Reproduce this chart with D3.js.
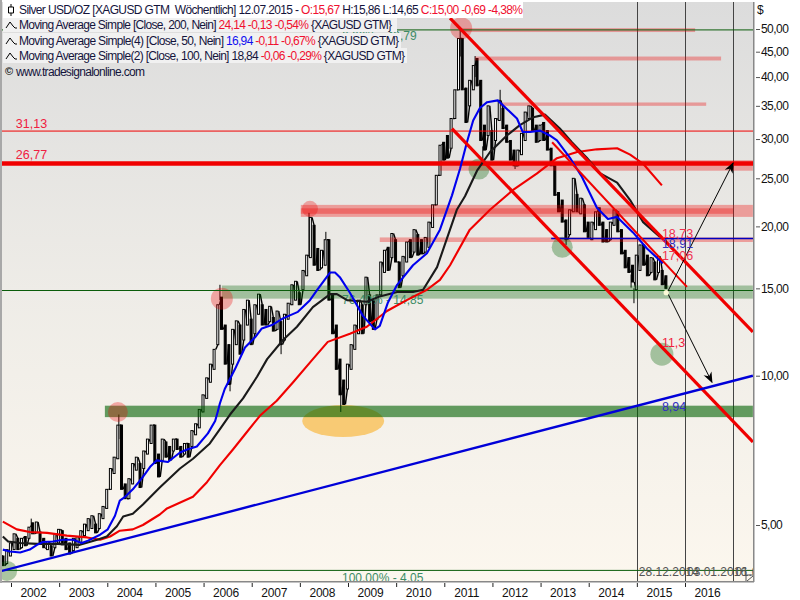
<!DOCTYPE html>
<html><head><meta charset="utf-8">
<script src="https://d3js.org/d3.v7.min.js"></script>
<style>html,body{margin:0;padding:0;background:#fff}svg{display:block}text{font-family:"Liberation Sans",Arial,sans-serif}</style>
</head><body><svg id="c" width="800" height="600"></svg>
<script>
// four-weekly open / close (USD)
const barStartYear = 2001.834, barsPerYear = 13;
const barOpen = [4.33,4.18,4.33,4.46,4.7,4.5,4.74,4.7,5.05,4.82,4.84,4.7,4.46,4.54,4.5,4.6,4.87,4.7,4.6,4.44,4.5,4.6,4.76,4.87,4.92,5.02,4.92,5.15,5.4,5.9,6.35,6.8,7.95,6.05,5.65,6.05,6.45,6.65,6.5,6.95,7.3,7.95,6.95,6.75,7.35,7.2,7.05,7.45,7.2,6.95,7.3,7.2,7.6,7.85,8.45,9.0,9.7,10.3,11.55,14.4,12.65,11.55,10.55,11.55,12.65,11.8,12.65,13.0,12.15,13.3,13.9,13.6,12.85,13.1,12.4,12.85,11.8,13.0,13.9,14.2,14.7,14.9,15.9,17.3,20.1,18.05,16.5,16.7,18.8,14.55,12.65,10.8,9.8,9.4,10.3,11.3,12.15,13.9,13.9,14.55,14.2,13.0,14.55,16.15,18.15,17.3,18.8,16.95,15.9,16.95,18.8,17.75,19.25,18.8,17.75,18.15,19.9,22.1,25.35,29.55,30.5,28.75,33.0,37.7,47.85,38.0,35.0,37.7,43.6,39.4,32.0,30.5,31.2,29.8,32.7,34.6,32.0,29.8,28.5,26.5,27.9,29.8,33.0,34.6,32.0,29.8,32.4,31.2,28.75,26.5,23.4,22.6,20.6,19.25,21.4,23.2,21.2,22.1,20.4,18.8,19.7,21.8,20.4,19.7,18.8,20.1,21.4,19.7,17.9,17.3,16.7,14.9,16.3,18.35,17.5,16.15,16.95,16.15,16.3,15.9];
const barClose = [4.14,4.46,4.6,4.8,4.46,4.7,4.54,4.95,4.8,5.07,4.6,4.5,4.63,4.33,4.8,4.9,4.56,4.46,4.37,4.7,4.74,4.87,5.02,5.15,5.22,4.82,5.27,5.45,5.9,6.5,6.85,7.95,5.9,5.65,6.2,6.65,6.85,5.95,7.05,7.45,7.95,6.65,6.25,7.45,6.85,6.75,7.45,7.1,6.85,7.3,6.85,7.75,8.0,8.55,9.15,9.9,10.55,11.3,13.9,12.4,10.55,9.6,12.4,12.9,11.05,13.6,14.2,11.55,13.9,14.6,12.65,12.65,13.8,12.3,13.5,11.55,13.3,14.0,15.25,15.5,13.9,16.3,17.5,20.85,16.7,16.3,17.9,18.8,14.2,12.15,10.3,9.15,8.75,10.55,11.55,12.65,14.2,12.15,15.8,12.85,12.4,14.55,16.95,17.9,16.3,19.35,16.95,15.05,17.4,18.6,17.3,19.7,17.5,17.6,19.0,20.4,22.1,25.35,29.15,27.2,27.45,33.0,37.7,47.85,37.7,32.4,39.4,42.2,38.4,29.8,28.5,35.0,27.2,33.0,35.9,31.5,29.55,27.2,26.5,28.5,30.8,34.0,35.0,31.2,29.55,32.0,29.8,28.5,26.5,23.1,21.4,20.4,18.8,21.6,25.0,21.4,22.8,19.5,19.0,20.4,21.4,20.1,18.6,18.6,20.4,21.6,19.5,17.6,16.5,16.15,15.45,17.5,18.35,16.7,15.9,17.3,15.6,17.4,15.25,15.0];
// notable wicks [year, high, low]
const wicks = [[2002.42,5.15,4.95],[2004.24,8.35,7.45],[2006.34,15.25,14.2],[2006.55,10.0,9.3],[2007.61,11.8,11.05],[2008.19,21.3,17.4],[2008.54,19.5,18.8],[2008.85,9.5,8.45],[2011.33,49.8,44],[2011.64,44.1,40],[2011.80,29,27.2],[2012.16,37.7,35],[2012.47,27,26.1],[2013.53,19,18.35],[2014.88,16,15.05],[2014.94,15,14.0]];

const ma50 = [[2001.83,4.46],[2001.98,4.42],[2002.19,4.4],[2002.39,4.46],[2002.54,4.56],[2002.66,4.62],[2002.87,4.63],[2003.08,4.67],[2003.29,4.67],[2003.47,4.6],[2003.60,4.65],[2003.85,4.78],[2004.01,4.9],[2004.16,5.22],[2004.26,5.6],[2004.37,5.7],[2004.53,5.9],[2004.74,6.25],[2004.89,6.55],[2005.03,6.75],[2005.26,6.7],[2005.51,7.0],[2005.66,7.1],[2005.86,7.2],[2006.09,7.65],[2006.24,8.1],[2006.30,8.5],[2006.34,8.8],[2006.44,9.4],[2006.65,10.3],[2006.86,11.4],[2007.07,11.95],[2007.21,12.45],[2007.42,12.65],[2007.65,13.05],[2007.96,13.45],[2008.21,14.2],[2008.36,14.9],[2008.63,16.15],[2008.73,16.15],[2008.83,15.8],[2009.04,14.7],[2009.31,13.2],[2009.56,12.4],[2009.66,12.6],[2009.83,14.05],[2010.02,15.25],[2010.35,16.7],[2010.64,17.65],[2010.91,19.7],[2011.16,23.1],[2011.33,26.2],[2011.47,29.55],[2011.60,32.7],[2011.74,34.65],[2011.89,35.6],[2012.11,35.9],[2012.30,34.5],[2012.51,33.0],[2012.63,31.0],[2012.78,31.0],[2012.99,31.2],[2013.19,30.5],[2013.34,29.8],[2013.61,27.5],[2013.86,25.15],[2014.17,21.8],[2014.40,20.7],[2014.59,20.9],[2014.92,19.45],[2015.21,18.05],[2015.54,16.85]];
const ma100 = [[2001.83,4.74],[2001.94,4.63],[2002.19,4.6],[2002.54,4.58],[2002.96,4.58],[2003.43,4.56],[2003.79,4.67],[2003.99,4.74],[2004.20,4.97],[2004.33,5.2],[2004.53,5.27],[2004.74,5.5],[2005.09,5.95],[2005.51,6.5],[2005.78,6.8],[2006.13,7.3],[2006.34,7.8],[2006.55,8.35],[2006.82,9.0],[2007.11,9.95],[2007.32,10.8],[2007.65,11.8],[2007.94,12.55],[2008.27,13.75],[2008.63,14.6],[2008.77,14.6],[2008.98,14.2],[2009.39,14.1],[2009.66,14.45],[2010.02,14.75],[2010.35,14.75],[2010.56,14.9],[2010.85,16.55],[2011.26,21.6],[2011.43,23],[2011.68,25.9],[2011.95,28.25],[2012.30,30.5],[2012.57,32],[2012.85,33.2],[2013.09,33.6],[2013.40,31.5],[2013.65,29.55],[2013.96,27.5],[2014.23,25.6],[2014.59,24.5],[2014.86,22.6],[2015.13,20.4],[2015.48,19.05]];
const ma200 = [[2001.83,5.08],[2002.12,4.9],[2002.39,4.84],[2002.75,4.82],[2003.16,4.76],[2003.58,4.72],[2003.85,4.67],[2004.06,4.74],[2004.26,4.87],[2004.53,4.9],[2004.74,5.0],[2005.09,5.25],[2005.24,5.4],[2005.78,5.7],[2006.07,6.1],[2006.34,6.6],[2006.61,7.1],[2006.90,7.7],[2007.17,8.3],[2007.52,8.9],[2007.86,9.7],[2008.27,10.8],[2008.58,11.7],[2009.04,12.15],[2009.39,12.55],[2009.81,13.5],[2010.22,14.2],[2010.64,14.9],[2010.91,15.6],[2011.12,16.7],[2011.53,19.7],[2011.95,21.6],[2012.43,23.7],[2012.92,25.55],[2013.34,27.45],[2013.76,28.25],[2014.17,28.6],[2014.59,28.75],[2014.86,27.9],[2015.13,26.75],[2015.52,24.2]];

const yearEnd = 2017.41;
// analyst trend lines [[year,value],[year,value]]
const redTrends = [[[2011.12,52.6],[yearEnd,12.25]],[[2011.16,31.5],[yearEnd,7.35]]];
const redTrendThin = [[2013.24,29.55],[2016.04,15.1]];
const blueTrend = [[2001.81,4.04],[yearEnd,10.0]];
const arrows = [[[2015.63,14.7],[2017.0,26.85]],[[2015.65,14.6],[2016.56,9.7]]];
const fibLevels = [49.79,14.85,4.05];
const fibLabels = ["0,00% - 49,79","76,40% - 14,85","100,00% - 4,05"];
// bands: value top, value bottom, year from, year to
const pinkBands = [[50.2,49.3,2011.33,2016.21],[44.0,43.2,2011.64,2016.75],[35.55,35.0,2012.16,2016.44],[27.2,25.9,2010.91,yearEnd],[22.1,20.9,2008.02,yearEnd],[21.75,21.2,2008.02,2017.0],[19.0,18.6,2009.66,yearEnd]];
const lightGreenBand = [15.2,14.3,2006.38,yearEnd];
const darkGreenBand = [8.7,8.25,2003.95,yearEnd];
const redSpots = [[2004.22,8.45],[2006.38,14.3],[2008.21,21.7],[2011.35,50.2]];
const greenSpots = [[2001.92,4.04],[2011.72,26.1],[2013.45,18.15],[2015.52,11.05]];
const lowSpot = [2008.9,8.1];
const yTicks = [50,45,40,35,30,25,20,15,10,5];
const xTicks = d3.range(2002,2017);
const cycleLines = [2015,2016,2017];
const cycleLabels = ["28.12.2014","03.01.2016","01.01.2017"];
const blueLevel = 18.91;

const svg = d3.select("#c");
const defs = svg.append("defs");
const grad = defs.append("linearGradient").attr("id","bg").attr("x1",0).attr("y1",0).attr("x2",0).attr("y2",1);
grad.append("stop").attr("offset",0).attr("stop-color","#dcdcdc");
grad.append("stop").attr("offset",0.5).attr("stop-color","#eeece7");
grad.append("stop").attr("offset",1).attr("stop-color","#fcf7ee");
defs.append("clipPath").attr("id","plot").append("rect").attr("x",2).attr("y",2).attr("width",751).attr("height",579);
defs.append("marker").attr("id","ah").attr("viewBox","0 0 10 10").attr("refX",9).attr("refY",5).attr("markerWidth",11).attr("markerHeight",11).attr("orient","auto").attr("markerUnits","userSpaceOnUse")
  .append("path").attr("d","M0,1L10,5L0,9L3,5Z").attr("fill","#000");

const x = d3.scaleLinear().domain([2002,2016]).range([11,685]);
const y = d3.scaleLog().domain([50,5]).range([29,525]);

svg.append("rect").attr("width",800).attr("height",600).attr("fill","#fff");
svg.append("rect").attr("x",0).attr("y",0).attr("width",2).attr("height",583).attr("fill","#a8a8a8");
svg.append("rect").attr("x",2).attr("y",2).attr("width",751).attr("height",579).attr("fill","url(#bg)");

const p = svg.append("g").attr("clip-path","url(#plot)");
p.append("ellipse").attr("cx",x(lowSpot[0])).attr("cy",y(lowSpot[1])).attr("rx",41).attr("ry",16).attr("fill","#f8ca74");

// vertical cycle lines
p.selectAll(".cy").data(cycleLines).enter().append("line").attr("x1",d=>Math.round(x(d))+0.5).attr("x2",d=>Math.round(x(d))+0.5).attr("y1",2).attr("y2",581).attr("stroke","#444").attr("stroke-width",1);

// candles
const bars = barOpen.map((o,i)=>({yr:barStartYear+i/barsPerYear,o,c:barClose[i],prev:i?barClose[i-1]:o}));
p.selectAll(".w").data(wicks).enter().append("line").attr("x1",d=>x(d[0])).attr("x2",d=>x(d[0])).attr("y1",d=>y(d[1])).attr("y2",d=>y(d[2])).attr("stroke","#000").attr("stroke-width",1);
// each candle's shadow reaches back to the preceding close
p.selectAll(".s").data(bars).enter().append("path")
  .attr("d",(d,i)=>`M${x(d.yr)-2},${y(d.prev)}L${x(d.yr)},${y(d.o)}`)
  .attr("stroke","#000").attr("stroke-width",1.4).attr("fill","none");
const ordered = bars.slice().sort((a,b)=>(b.c>=b.o)-(a.c>=a.o));
p.selectAll(".b").data(ordered).enter().append("rect")
  .attr("x",d=>x(d.yr)-1).attr("width",2)
  .attr("y",d=>y(Math.max(d.o,d.c))).attr("height",d=>Math.abs(y(d.o)-y(d.c)))
  .attr("fill",d=>d.c>=d.o?"#fff":"#000").attr("stroke","#000").attr("stroke-width",1);

// bands
const band = (d,fill,op)=>p.append("rect").attr("x",x(d[2])).attr("width",x(d[3])-x(d[2])).attr("y",y(d[0])).attr("height",y(d[1])-y(d[0])).attr("fill",fill).attr("fill-opacity",op);
pinkBands.forEach(d=>band(d,"rgb(240,0,0)",0.32));
band(lightGreenBand,"rgb(0,96,0)",0.32);
band(darkGreenBand,"rgb(0,96,0)",0.6);
const redR=[10,11,8,11], greenR=[10,10.5,10.5,11.5];
p.selectAll(".rs").data(redSpots).enter().append("circle").attr("cx",d=>x(d[0])).attr("cy",d=>y(d[1])).attr("r",(d,i)=>redR[i]).attr("fill","rgb(240,0,0)").attr("fill-opacity",0.3);
p.selectAll(".gs").data(greenSpots).enter().append("circle").attr("cx",d=>x(d[0])).attr("cy",d=>y(d[1])).attr("r",(d,i)=>greenR[i]).attr("fill","rgb(0,96,0)").attr("fill-opacity",0.32);

// horizontal levels
const hl=(v,c,w,x0)=>p.append("line").attr("x1",x0===undefined?2:x(x0)).attr("x2",753).attr("y1",y(v)).attr("y2",y(v)).attr("stroke",c).attr("stroke-width",w);
fibLevels.forEach(v=>hl(v,"#0a5c0a",1));
hl(31.13,"#f00000",1);
hl(26.77,"#f00000",4.5);
hl(blueLevel,"#0000c0",1.4,2013.22);

// fib labels
p.selectAll(".fl").data(fibLevels).enter().append("text").attr("x",342).attr("y",(d,i)=>y(d)+[10,13,12][i]).text((d,i)=>fibLabels[i]).attr("font-size",12).attr("fill","#3d8c66");

// moving averages
const line=d3.line().x(d=>x(d[0])).y(d=>y(d[1]));
[[ma200,"#f00000"],[ma100,"#1a1a1a"],[ma50,"#0000ee"]].forEach(([s,c])=>p.append("path").attr("d",line(s)).attr("fill","none").attr("stroke",c).attr("stroke-width",2.1).attr("stroke-linejoin","round"));

// trend lines
redTrends.forEach(s=>p.append("path").attr("d",line(s)).attr("fill","none").attr("stroke","#f00000").attr("stroke-width",3.2));
p.append("path").attr("d",line(redTrendThin)).attr("fill","none").attr("stroke","#f00000").attr("stroke-width",2);
p.append("path").attr("d",line(blueTrend)).attr("fill","none").attr("stroke","#0000d8").attr("stroke-width",2.4);

// arrows
arrows.forEach(s=>p.append("path").attr("d",line(s)).attr("fill","none").attr("stroke","#000").attr("stroke-width",1).attr("marker-end","url(#ah)"));
p.append("circle").attr("cx",x(arrows[0][0][0])-1).attr("cy",y(arrows[0][0][1])).attr("r",2.6).attr("fill","#fdfbd8");

// value labels
const lab=(t,yr,v,c,dy)=>p.append("text").attr("x",x(yr)).attr("y",y(v)+dy).text(t).attr("fill",c).attr("font-size",12.5);
lab("31,13",2002.1,31.13,"#f02040",-3);
lab("26,77",2002.1,26.77,"#f02040",-5);
lab("18,73",2015.52,18.73,"#f03050",-3);
lab("18,91",2015.52,18.91,"#3030c0",10);
lab("17,06",2015.52,17.06,"#f03050",-1);
lab("11,3",2015.52,11.3,"#f02040",-2.5);
lab("8,94",2015.52,8.94,"#3030c0",11);

// cycle labels
p.selectAll(".cl").data(cycleLines).enter().append("text").attr("x",d=>x(d)+2).attr("y",576).text((d,i)=>cycleLabels[i]).attr("font-size",12).attr("fill","#555");

// frame
svg.append("rect").attr("x",2).attr("y",581).attr("width",752).attr("height",1.5).attr("fill","#888");
svg.append("rect").attr("x",753).attr("y",2).attr("width",1.5).attr("height",580).attr("fill","#888");
svg.append("path").attr("d","M746,575H753M746,575V581M747,581L753,576").attr("stroke","#555").attr("fill","#fff");

// axes
const fmt = d=>d3.format(".2f")(d).replace(".",",");
const ya = svg.append("g").attr("transform","translate(756,0)").call(d3.axisRight(y).tickValues(yTicks).tickFormat(fmt).tickSize(4).tickPadding(1));
ya.select(".domain").remove();
ya.selectAll("line").attr("stroke","#555");
ya.selectAll("text").attr("font-size",12).attr("fill","#111").attr("font-family",'"Liberation Sans"').attr("letter-spacing",-0.55);
svg.append("text").attr("x",757).attr("y",14).text("$").attr("font-size",12).attr("fill","#111");
const xa = svg.append("g").attr("transform","translate(0,583)").call(d3.axisBottom(x).tickValues(xTicks).tickFormat(d3.format("d")).tickSize(4).tickPadding(1));
xa.select(".domain").remove();
xa.selectAll("line").attr("stroke","#222");
xa.selectAll("text").attr("dx",22).attr("font-size",12).attr("fill","#111").attr("font-family",'"Liberation Sans"').attr("letter-spacing",-0.2);

// legend
const ink="#14143c", red="#f01030", blue="#1010f0";
const rows=[
 {y:14,w:504,bx:523,by:2,bh:16,bc:"#fff",ic:"c",parts:[["Silver USD/OZ [XAGUSD GTM  Wöchentlich] 12.07.2015 - ",ink],["O:15,67",red],[" H:15,86 L:14,65 ",ink],["C:15,00 -0,69 -4,38%",red]]},
 {y:29,w:373,bx:397,by:18,bh:14,bc:"#f1f1f1",ic:"w",parts:[["Moving Average Simple [Close, 200, Nein] ",ink],["24,14 -0,13 -0,54%",red],[" {XAGUSD GTM}",ink]]},
 {y:45,w:380,bx:401,by:33,bh:15,bc:"#f1f1f1",ic:"w",parts:[["Moving Average Simple(4) [Close, 50, Nein] ",ink],["16,94",blue],[" -0,11 -0,67%",red],[" {XAGUSD GTM}",ink]]},
 {y:60,w:386,bx:407,by:48,bh:15,bc:"#f1f1f1",ic:"w",parts:[["Moving Average Simple(2) [Close, 100, Nein] 18,84 ",ink],["-0,06 -0,29%",red],[" {XAGUSD GTM}",ink]]}];
const lg=svg.append("g");
rows.forEach(r=>{
  lg.append("rect").attr("x",3).attr("y",r.by).attr("width",r.bx-3).attr("height",r.bh).attr("fill",r.bc);
  const t=lg.append("text").attr("x",19).attr("y",r.y).attr("font-size",12).attr("xml:space","preserve").style("white-space","pre").attr("textLength",r.w).attr("lengthAdjust","spacing");
  r.parts.forEach(pt=>t.append("tspan").text(pt[0]).attr("fill",pt[1]));
  if(r.ic==="c") lg.append("path").attr("d",`M11,${r.y-10}V${r.y-7}M11,${r.y-1}V${r.y+2}M8.5,${r.y-7}H13.5V${r.y-1}H8.5Z`).attr("fill","none").attr("stroke","#000");
  else lg.append("path").attr("d",`M6,${r.y-1}L10,${r.y-7}L13,${r.y-3}L15,${r.y-1}L17,${r.y-1}`).attr("fill","none").attr("stroke","#000");
});
lg.append("text").attr("x",5).attr("y",75).text("©").attr("font-size",11).attr("font-weight","bold").attr("fill","#222");
lg.append("text").attr("x",16).attr("y",76).text("www.tradesignalonline.com").attr("font-size",12).attr("fill","#14143c").attr("textLength",129);
</script></body></html>
